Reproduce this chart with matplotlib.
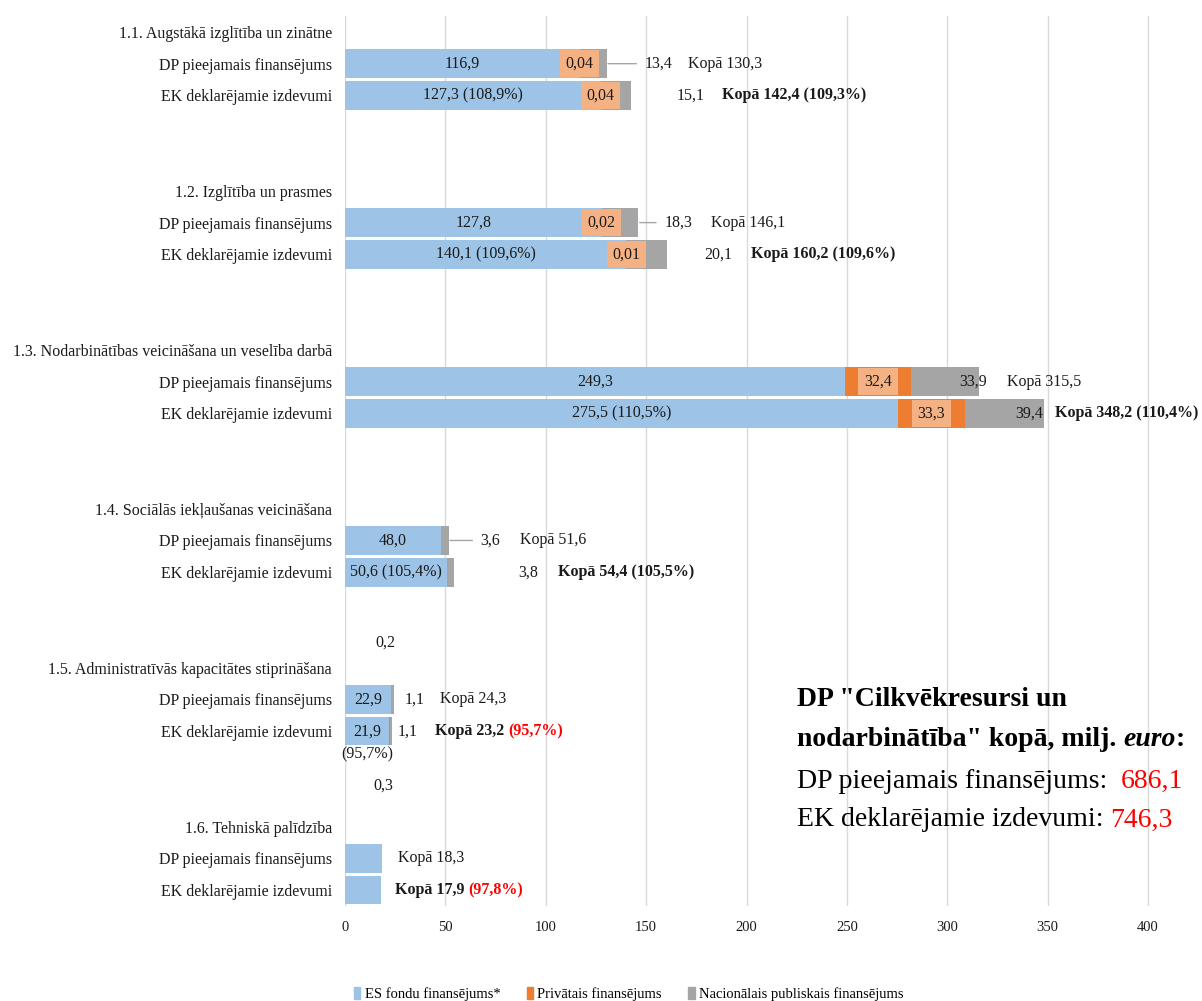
import matplotlib.pyplot as plt
from matplotlib.patches import Patch

plt.rcParams['font.family'] = ['Liberation Serif', 'DejaVu Serif']

# dati (milj. euro)
groups = ["1.1. Augstākā izglītība un zinātne",
          "1.2. Izglītība un prasmes",
          "1.3. Nodarbinātības veicināšana un veselība darbā",
          "1.4. Sociālās iekļaušanas veicināšana",
          "1.5. Administratīvās kapacitātes stiprināšana",
          "1.6. Tehniskā palīdzība"]
row_names = ["DP pieejamais finansējums", "EK deklarējamie izdevumi"]
es_dp = [116.9, 127.8, 249.3, 48.0, 22.9, 18.3]
es_ek = [127.3, 140.1, 275.5, 50.6, 21.9, 17.9]
priv_dp = [0.04, 0.02, 32.4, 0, 0.2, 0]
priv_ek = [0.04, 0.01, 33.3, 0, 0.3, 0]
nat_dp = [13.4, 18.3, 33.9, 3.6, 1.1, 0]
nat_ek = [15.1, 20.1, 39.4, 3.8, 1.1, 0]
kopa_dp = [130.3, 146.1, 315.5, 51.6, 24.3, 18.3]
kopa_ek = [142.4, 160.2, 348.2, 54.4, 23.2, 17.9]
pct_es_ek = [108.9, 109.6, 110.5, 105.4, 95.7, None]
pct_kopa_ek = [109.3, 109.6, 110.4, 105.5, 95.7, 97.8]
total_dp_all = 686.1
total_ek_all = 746.3
legend_labels = ["ES fondu finansējums*", "Privātais finansējums", "Nacionālais publiskais finansējums"]

# etiķešu nobīdes no joslas beigām (pikseļos)
nat_off_dp = [52, 40, -5, 42, 21, 0]
nat_off_ek = [60, 52, -15, 74, 16, 0]
kopa_off_dp = [81, 73, 28, 71, 46, 16]
kopa_off_ek = [91, 84, 11, 104, 43, 14]
leader = [True, True, False, True, False, False]

BLUE = '#9DC3E6'
ORANGE = '#ED7D31'
GREY = '#A5A5A5'
LIGHT_OR = '#F4B183'
TXT = '#1a1a1a'
FS = 11.5


def fmt(v):
    if v < 0.1:
        return f"{v:.2f}".replace('.', ',')
    return f"{v:.1f}".replace('.', ',')


fig = plt.figure(figsize=(12.02, 10.01), dpi=100)
ax = fig.add_axes([345 / 1202, 1 - 906 / 1001, (1202 - 345) / 1202, (906 - 16) / 1001])

head_y = [5 * g for g in range(6)]
dp_y = [5 * g + 1 for g in range(6)]
ek_y = [5 * g + 2 for g in range(6)]

# joslas
for ys, es, pr, na in [(dp_y, es_dp, priv_dp, nat_dp), (ek_y, es_ek, priv_ek, nat_ek)]:
    ax.barh(ys, es, height=0.9, color=BLUE, zorder=2)
    ax.barh(ys, pr, left=es, height=0.9, color=ORANGE, zorder=2)
    left2 = [a + b for a, b in zip(es, pr)]
    ax.barh(ys, na, left=left2, height=0.9, color=GREY, zorder=2)

ax.set_xlim(0, (1202 - 345) / 2.0075)
ax.set_ylim(27.5, -0.5)
ax.set_xticks(range(0, 401, 50))
ax.xaxis.grid(True, color='#D9D9D9', lw=1)
ax.set_axisbelow(True)
for s in ax.spines.values():
    s.set_visible(False)
ax.tick_params(axis='x', length=0, pad=11, labelsize=10.5, labelcolor=TXT)

yt, yl = [], []
for g in range(6):
    yt += [head_y[g], dp_y[g], ek_y[g]]
    yl += [groups[g], row_names[0], row_names[1]]
ax.set_yticks(yt)
ax.set_yticklabels(yl, fontsize=FS, color=TXT)
ax.tick_params(axis='y', length=0, pad=9.5)

for g in range(6):
    # ES fondu etiķetes
    if g < 5:
        ax.text(es_dp[g] / 2, dp_y[g], fmt(es_dp[g]), ha='center', va='center', fontsize=FS, color=TXT, zorder=3)
        if g == 4:
            ax.text(es_ek[g] / 2, ek_y[g], fmt(es_ek[g]), ha='center', va='center', fontsize=FS, color=TXT, zorder=3)
            ax.text(es_ek[g] / 2, ek_y[g] + 0.72, f"({fmt(pct_es_ek[g])}%)", ha='center', va='center',
                    fontsize=FS, color=TXT, zorder=3)
        else:
            ax.text(es_ek[g] / 2, ek_y[g], f"{fmt(es_ek[g])} ({fmt(pct_es_ek[g])}%)", ha='center', va='center',
                    fontsize=FS, color=TXT, zorder=3)

    # privātā finansējuma etiķetes
    for ys, es, pr, dy in [(dp_y, es_dp, priv_dp, -1.8), (ek_y, es_ek, priv_ek, 1.7)]:
        if pr[g] <= 0:
            continue
        cx = es[g] + pr[g] / 2
        if g == 4:
            ax.text(cx - 3, ys[g] + dy, fmt(pr[g]), ha='center', va='center', fontsize=FS, color=TXT)
        else:
            ax.text(cx, ys[g], fmt(pr[g]), ha='center', va='center', fontsize=FS, color=TXT, zorder=4,
                    bbox=dict(boxstyle='square,pad=0.36', fc=LIGHT_OR, ec='none'))

    # nacionālais finansējums un kopā
    end_dp = es_dp[g] + priv_dp[g] + nat_dp[g]
    end_ek = es_ek[g] + priv_ek[g] + nat_ek[g]
    if nat_dp[g] > 0:
        kw = {}
        if leader[g]:
            kw['arrowprops'] = dict(arrowstyle='-', color=GREY, lw=1, shrinkA=4, shrinkB=1)
        ax.annotate(fmt(nat_dp[g]), xy=(end_dp, dp_y[g]), xytext=(nat_off_dp[g], 0), textcoords='offset pixels',
                    ha='center', va='center', fontsize=FS, color=TXT, zorder=4, **kw)
    if nat_ek[g] > 0:
        ax.annotate(fmt(nat_ek[g]), xy=(end_ek, ek_y[g]), xytext=(nat_off_ek[g], 0), textcoords='offset pixels',
                    ha='center', va='center', fontsize=FS, color=TXT, zorder=4)

    ax.annotate(f"Kopā {fmt(kopa_dp[g])}", xy=(end_dp, dp_y[g]), xytext=(kopa_off_dp[g], 0),
                textcoords='offset pixels', ha='left', va='center', fontsize=FS, color=TXT)
    if g >= 4:
        t = ax.annotate(f"Kopā {fmt(kopa_ek[g])} ", xy=(end_ek, ek_y[g]), xytext=(kopa_off_ek[g], 0),
                        textcoords='offset pixels', ha='left', va='center', fontsize=FS, color=TXT,
                        fontweight='bold')
        ax.annotate(f"({fmt(pct_kopa_ek[g])}%)", xy=(1, 0), xycoords=t, ha='left', va='bottom',
                    fontsize=FS, color='red', fontweight='bold')
    else:
        ax.annotate(f"Kopā {fmt(kopa_ek[g])} ({fmt(pct_kopa_ek[g])}%)", xy=(end_ek, ek_y[g]),
                    xytext=(kopa_off_ek[g], 0), textcoords='offset pixels', ha='left', va='center',
                    fontsize=FS, color=TXT, fontweight='bold')

# kopsavilkuma teksts
BIG = 20
x0 = 797 / 1202
fig.text(x0, 1 - 700 / 1001, 'DP "Cilkvēkresursi un', fontsize=BIG, fontweight='bold', va='center', color='black')
t1 = fig.text(x0, 1 - 740 / 1001, 'nodarbinātība" kopā, milj. ', fontsize=BIG, fontweight='bold', va='center')
t2 = ax.annotate('euro', xy=(1, 0), xycoords=t1, fontsize=BIG, fontweight='bold', fontstyle='italic',
                 va='bottom', ha='left')
ax.annotate(':', xy=(1, 0), xycoords=t2, fontsize=BIG, fontweight='bold', va='bottom', ha='left')
t3 = fig.text(x0, 1 - 781 / 1001, 'DP pieejamais finansējums:  ', fontsize=BIG, va='center')
ax.annotate(fmt(total_dp_all), xy=(1, 0), xycoords=t3, fontsize=BIG, color='red', va='bottom', ha='left')
t4 = fig.text(x0, 1 - 820 / 1001, 'EK deklarējamie izdevumi: ', fontsize=BIG, va='center')
ax.annotate(fmt(total_ek_all), xy=(1, 0), xycoords=t4, fontsize=BIG, color='red', va='bottom', ha='left')

handles = [Patch(color=BLUE), Patch(color=ORANGE), Patch(color=GREY)]
fig.legend(handles, legend_labels, loc='center', bbox_to_anchor=(0.523, 0.007), ncol=3, frameon=False,
           fontsize=10.5, handlelength=0.45, handleheight=0.9, handletextpad=0.3, columnspacing=1.8)

fig.savefig('out.png', dpi=100)
